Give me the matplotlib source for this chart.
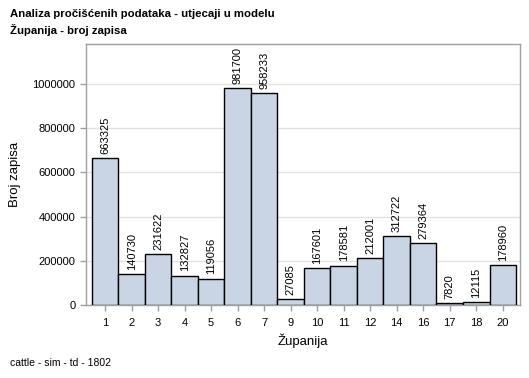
import matplotlib
matplotlib.use("Agg")
import matplotlib.pyplot as plt
import numpy as np

plt.rcParams['font.family'] = ['Liberation Sans', 'DejaVu Sans']

zupanije = ["1", "2", "3", "4", "5", "6", "7", "9", "10", "11", "12", "14", "16", "17", "18", "20"]
broj = [663325, 140730, 231622, 132827, 119056, 981700, 958233, 27085,
        167601, 178581, 212001, 312722, 279364, 7820, 12115, 178960]
yticks = [0, 200000, 400000, 600000, 800000, 1000000]

FILL = "#c9d5e5"
FRAME = "#a0a0a0"

fig = plt.figure(figsize=(5.29, 3.78), dpi=100)
ax = fig.add_axes([86 / 529, 73 / 378, 434 / 529, 261 / 378])

x = np.arange(len(zupanije))
ax.bar(x, broj, width=1.0, color=FILL, edgecolor="black", linewidth=1.0, zorder=3)
for xi, v in zip(x, broj):
    ax.annotate(str(v), (xi, v), xytext=(0, 3), textcoords="offset points",
                rotation=90, ha="center", va="bottom", fontsize=8, zorder=4)

ax.set_xlim(-0.72, len(zupanije) - 0.35)
ax.set_ylim(0, 1180000)
ax.set_xticks(x)
ax.set_xticklabels(zupanije)
ax.set_yticks(yticks)
ax.set_yticklabels([str(t) for t in yticks])
ax.yaxis.grid(True, color="#e2e2e2", linewidth=1.0, zorder=0)
ax.set_axisbelow(True)

for s in ax.spines.values():
    s.set_color(FRAME)
    s.set_linewidth(1.0)
ax.tick_params(axis="both", colors=FRAME, labelcolor="black", labelsize=8,
               length=4, width=1.0)
ax.tick_params(axis="x", pad=5)

ax.set_ylabel("Broj zapisa", fontsize=9.5, labelpad=8)
ax.set_xlabel("Županija", fontsize=9.5, labelpad=4)

fig.text(10 / 529, 1 - 14 / 378, "Analiza pročišćenih podataka - utjecaji u modelu",
         fontsize=8.2, fontweight="bold", ha="left", va="center")
fig.text(10 / 529, 1 - 30 / 378, "Županija - broj zapisa",
         fontsize=8.2, fontweight="bold", ha="left", va="center")
fig.text(10 / 529, 1 - 363 / 378, "cattle - sim - td - 1802",
         fontsize=7.5, ha="left", va="center")

fig.savefig("out.png", dpi=100)
